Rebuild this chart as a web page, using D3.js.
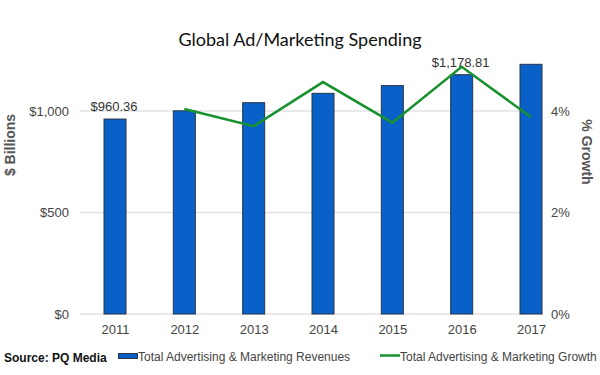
<!DOCTYPE html>
<html>
<head>
<meta charset="utf-8">
<script src="https://cdn.jsdelivr.net/npm/d3@7"></script>
<style>
  body { margin: 0; background: #fff; }
  svg { display: block; }
</style>
</head>
<body>
<div class="chartWrapper"></div>
<script>
var years = ['2011', '2012', '2013', '2014', '2015', '2016', '2017']
var revenues = [960.36, 1001, 1041, 1087, 1125, 1178.81, 1230]
var growthYears = ['2012', '2013', '2014', '2015', '2016', '2017']
var growth = [4.04, 3.70, 4.57, 3.77, 4.87, 3.88]
var leftTicks = [0, 500, 1000]
var rightTicks = [0, 2, 4]
var labelYears = ['2011', '2016']
var labelTexts = ['$960.36', '$1,178.81']

var fmtDollar = d3.format('$,')

function renderChart() {
    var width = 600, height = 375
    var svg = d3.select('.chartWrapper').append('svg')
        .attr('width', width)
        .attr('height', height)

    var gridLeft = 80, gridRight = 543

    var x = d3.scalePoint()
        .domain(years)
        .range([115, 531])

    var y = d3.scaleLinear()
        .domain([0, 1000])
        .range([314, 111])

    var yRight = d3.scaleLinear()
        .domain([0, 4])
        .range([314, 111])

    var barWidth = 22

    // title
    svg.append('text')
        .attr('x', 300)
        .attr('y', 46)
        .attr('text-anchor', 'middle')
        .style('font-family', 'Lato, "Open Sans", sans-serif')
        .style('font-size', '18px')
        .style('fill', '#111')
        .text('Global Ad/Marketing Spending')

    // gridlines
    svg.append('g').selectAll('line')
        .data(leftTicks)
        .enter()
        .append('line')
        .attr('x1', gridLeft)
        .attr('x2', gridRight)
        .attr('y1', function(d) { return y(d) })
        .attr('y2', function(d) { return y(d) })
        .attr('stroke', '#e2e2e2')
        .attr('stroke-width', 1.5)

    var tickFont = 'Arial, "Liberation Sans", sans-serif'

    // left axis
    var leftAxis = svg.append('g')
        .attr('transform', 'translate(' + gridLeft + ',0)')
        .call(d3.axisLeft(y).tickValues(leftTicks).tickFormat(fmtDollar).tickSize(0).tickPadding(11))
    leftAxis.select('.domain').remove()
    leftAxis.selectAll('text')
        .style('font-family', tickFont)
        .style('font-size', '13px')
        .style('fill', '#444')

    // right axis
    var rightAxis = svg.append('g')
        .attr('transform', 'translate(' + gridRight + ',0)')
        .call(d3.axisRight(yRight).tickValues(rightTicks).tickFormat(function(d) { return d + '%' }).tickSize(0).tickPadding(8))
    rightAxis.select('.domain').remove()
    rightAxis.selectAll('text')
        .style('font-family', tickFont)
        .style('font-size', '13px')
        .style('fill', '#444')

    // bottom axis
    var bottomAxis = svg.append('g')
        .attr('transform', 'translate(0,314)')
        .call(d3.axisBottom(x).tickSize(0).tickPadding(11))
    bottomAxis.select('.domain').remove()
    bottomAxis.selectAll('text')
        .style('font-family', tickFont)
        .style('font-size', '13px')
        .style('fill', '#444')

    // axis titles
    svg.append('text')
        .attr('transform', 'translate(15,145) rotate(-90)')
        .attr('text-anchor', 'middle')
        .style('font-family', tickFont)
        .style('font-size', '14px')
        .style('font-weight', 'bold')
        .style('fill', '#555')
        .text('$ Billions')

    svg.append('text')
        .attr('transform', 'translate(582,152) rotate(90)')
        .attr('text-anchor', 'middle')
        .style('font-family', tickFont)
        .style('font-size', '14px')
        .style('font-weight', 'bold')
        .style('fill', '#555')
        .text('% Growth')

    // bars
    svg.append('g').selectAll('rect')
        .data(revenues)
        .enter()
        .append('rect')
        .attr('x', function(d, i) { return x(years[i]) - barWidth / 2 })
        .attr('y', function(d) { return y(d) })
        .attr('width', barWidth)
        .attr('height', function(d) { return y(0) - y(d) })
        .attr('fill', '#0860c8')
        .attr('stroke', '#27364a')
        .attr('stroke-width', 1)

    // growth line
    var line = d3.line()
        .x(function(d, i) { return x(growthYears[i]) })
        .y(function(d) { return yRight(d) })

    svg.append('path')
        .datum(growth)
        .attr('d', line)
        .attr('fill', 'none')
        .attr('stroke', '#17922e')
        .attr('stroke-width', 2.5)

    // data labels
    svg.append('g').selectAll('text')
        .data(labelYears)
        .enter()
        .append('text')
        .attr('x', function(d) { return x(d) - 1 })
        .attr('y', function(d) { return y(revenues[years.indexOf(d)]) - 8 })
        .attr('text-anchor', 'middle')
        .style('font-family', tickFont)
        .style('font-size', '13px')
        .style('fill', '#333')
        .text(function(d, i) { return labelTexts[i] })

    // legend
    var legend = svg.append('g')
        .style('font-family', tickFont)
        .style('font-size', '12px')

    legend.append('text')
        .attr('x', 4)
        .attr('y', 362)
        .style('font-weight', 'bold')
        .style('fill', '#111')
        .text('Source: PQ Media')

    legend.append('rect')
        .attr('x', 118.5)
        .attr('y', 353.5)
        .attr('width', 19)
        .attr('height', 5)
        .attr('fill', '#0860c8')
        .attr('stroke', '#27364a')
        .attr('stroke-width', 1)

    legend.append('text')
        .attr('x', 138)
        .attr('y', 361)
        .style('fill', '#444')
        .text('Total Advertising & Marketing Revenues')

    legend.append('line')
        .attr('x1', 380)
        .attr('x2', 400)
        .attr('y1', 355.5)
        .attr('y2', 355.5)
        .attr('stroke', '#17922e')
        .attr('stroke-width', 2.5)

    legend.append('text')
        .attr('x', 400)
        .attr('y', 361)
        .style('fill', '#444')
        .text('Total Advertising & Marketing Growth')
}

renderChart()
</script>
</body>
</html>
